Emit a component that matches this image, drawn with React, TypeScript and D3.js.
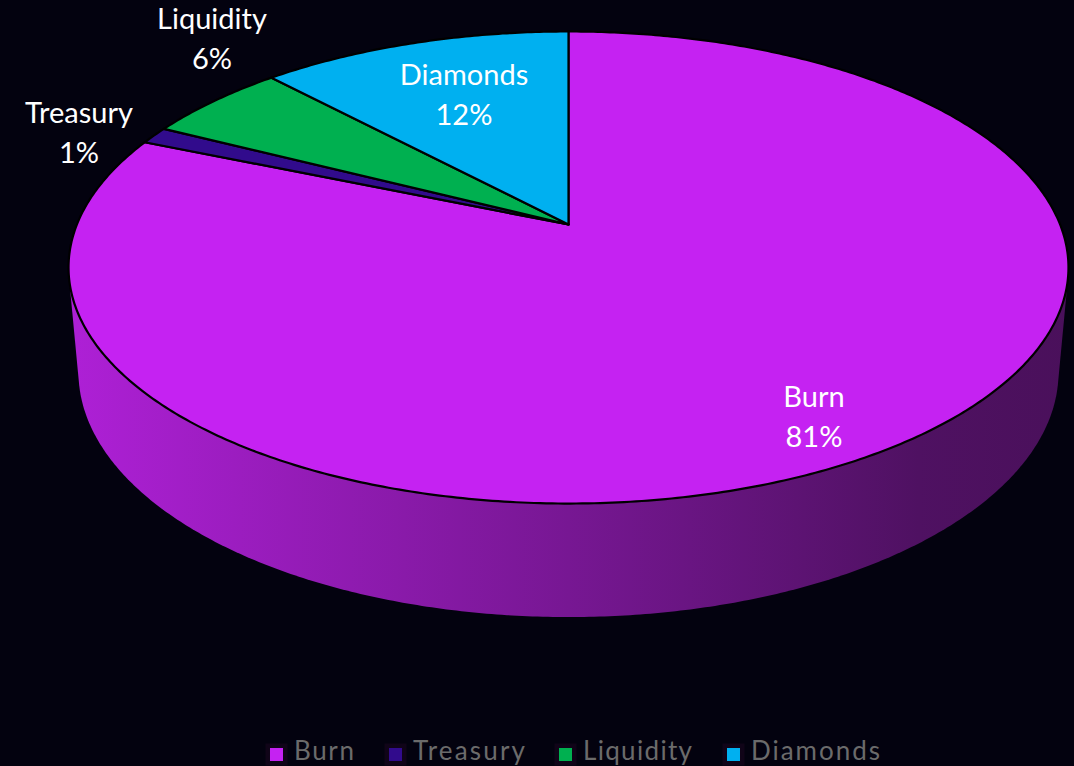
import React from "react";
import * as d3 from "d3";

const categories = ["Burn", "Treasury", "Liquidity", "Diamonds"];
const shares = [81.3, 1.2, 5.5, 12.0];
const percentLabels = ["81%", "1%", "6%", "12%"];
const colors = ["#C522F2", "#310B8C", "#00B050", "#00B0F0"];

const W = 1074, H = 766;
const BG = "#03020F";
const K = 0.1822;
const TOP = { cx: 568.5, cy: 224.5, a: 491.6, b: 228.2 };
const BOTTOM = { cx: 568.5, cy: 327.4, a: 481.8, b: 236.9 };
const LABELS = [
  { x: 814, y: 407 },
  { x: 79, y: 123 },
  { x: 212, y: 29 },
  { x: 464, y: 85 },
];
const LEGEND = [
  { box: 270, text: 294, len: 60 },
  { box: 389, text: 413, len: 112 },
  { box: 559, text: 583, len: 109 },
  { box: 727, text: 751, len: 129 },
];

type Rim = typeof TOP;
function project(rim: Rim, theta: number): [number, number] {
  const u = Math.sin(theta), v = Math.cos(theta);
  const s = 1 / (1 + K * v);
  return [rim.cx + rim.a * u * s, rim.cy - rim.b * v * s];
}

export default function App() {
  const arcs = d3.pie<number>().sort(null).value((d) => d)(shares);
  const line = d3.line();
  const full = d3.range(0, 720).map((i) => (i / 720) * 2 * Math.PI);
  const hull = d3.polygonHull([
    ...full.map((t) => project(TOP, t)),
    ...full.map((t) => project(BOTTOM, t)),
  ])!;
  const slicePath = (start: number, end: number) => {
    const n = Math.max(2, Math.ceil((end - start) / 0.01));
    const pts = d3.range(n + 1).map((i) => project(TOP, start + ((end - start) * i) / n));
    return line([[TOP.cx, TOP.cy], ...pts])! + "Z";
  };
  return (
    <svg
      width={W}
      height={H}
      viewBox={`0 0 ${W} ${H}`}
      style={{ position: "fixed", left: 0, top: 0, background: BG, display: "block" }}
      fontFamily="Lato, sans-serif"
    >
      <defs>
        <linearGradient id="wall" gradientUnits="userSpaceOnUse" x1={69} x2={1068} y1={0} y2={0}>
          <stop offset="0" stopColor="#AE20D6" />
          <stop offset="0.5" stopColor="#771793" />
          <stop offset="0.85" stopColor="#4F1162" />
          <stop offset="1" stopColor="#4A105B" />
        </linearGradient>
      </defs>
      <rect width={W} height={H} fill={BG} />
      <path d={line(hull)! + "Z"} fill="url(#wall)" />
      {arcs.map((a, i) => (
        <path
          key={categories[i]}
          d={slicePath(a.startAngle, a.endAngle)}
          fill={colors[i]}
          stroke="#000"
          strokeWidth={2.2}
          strokeLinejoin="round"
        />
      ))}
      {categories.map((c, i) => (
        <text key={c} x={LABELS[i].x} textAnchor="middle" fill="#fff" fontSize={29}>
          <tspan x={LABELS[i].x} y={LABELS[i].y}>{c}</tspan>
          <tspan x={LABELS[i].x} y={LABELS[i].y + 40}>{percentLabels[i]}</tspan>
        </text>
      ))}
      {categories.map((c, i) => (
        <g key={c}>
          <rect x={LEGEND[i].box - 4.5} y={743.5} width={22} height={22} fill="#100418" />
          <rect x={LEGEND[i].box} y={748} width={13} height={13} fill={colors[i]} />
          <text x={LEGEND[i].text} y={760.4} fill="#6B6B6B" fontSize={26} textLength={LEGEND[i].len} lengthAdjust="spacing">
            {c}
          </text>
        </g>
      ))}
    </svg>
  );
}
